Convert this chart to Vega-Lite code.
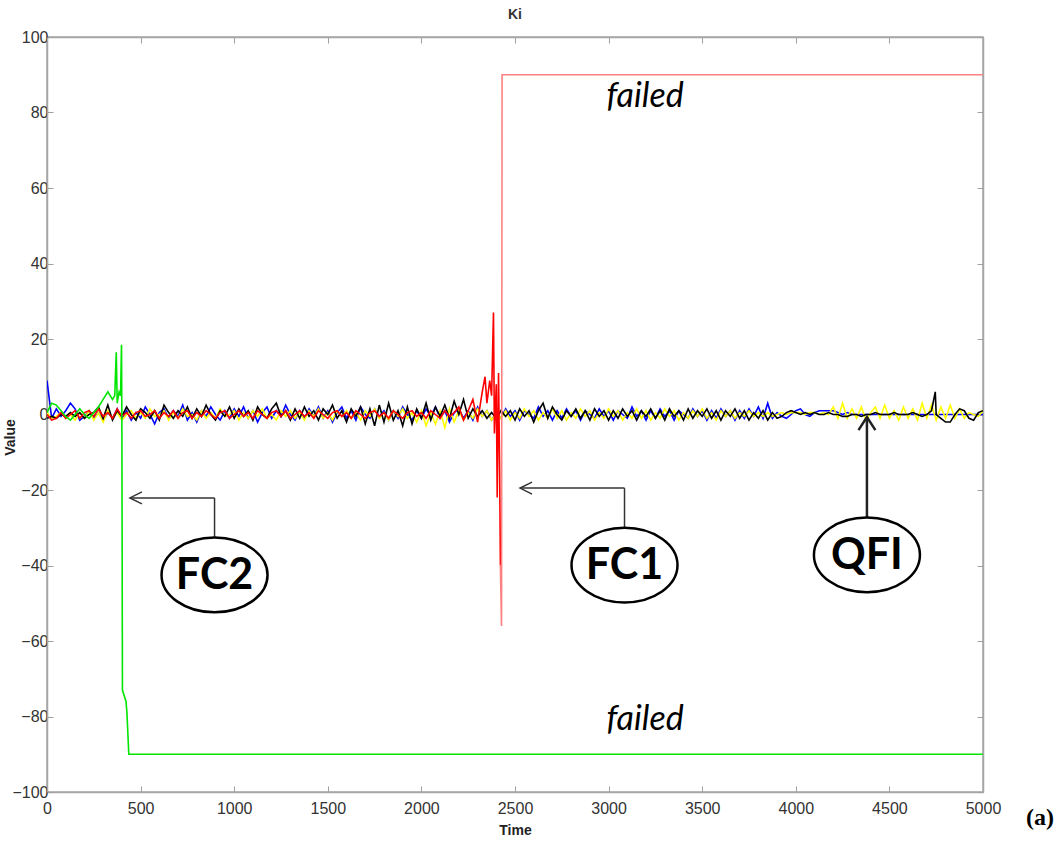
{
  "$schema": "https://vega.github.io/schema/vega-lite/v6.json",
  "width": 936,
  "height": 755,
  "autosize": {"type": "none"},
  "padding": {"left": 47, "top": 37, "right": 80, "bottom": 66},
  "background": "white",
  "title": {"text": "Ki", "fontSize": 14, "fontWeight": "bold", "font": "Liberation Sans", "color": "#333333", "offset": 7},
  "config": {"view": {"stroke": "#a6a6a6", "strokeWidth": 1.5}},
  "datasets": {
    "main": [
      {"t":0,"b":9,"k":-1,"y":0.5,"r":0,"g":0.5},
      {"t":25,"b":-1,"k":-0.5,"y":-1,"r":-1.5,"g":3},
      {"t":50,"b":1.5,"k":-1,"y":-0.5,"r":-1,"g":2.5},
      {"t":75,"b":-0.5,"k":0,"y":0.5,"r":0.5,"g":1},
      {"t":100,"b":1,"k":-0.5,"y":-1,"r":-1,"g":-0.5},
      {"t":125,"b":3,"k":0.5,"y":0,"r":0,"g":-1.5},
      {"t":150,"b":1.5,"k":-0.5,"y":-1.5,"r":1,"g":0},
      {"t":175,"b":-1.5,"k":0.5,"y":0.5,"r":-1,"g":1.5},
      {"t":200,"b":-0.5,"k":-1,"y":-1,"r":0.5,"g":0},
      {"t":225,"b":1,"k":0,"y":1,"r":1,"g":-1},
      {"t":250,"b":-1,"k":0.5,"y":-1.5,"r":-0.5,"g":0.5},
      {"t":275,"b":0.5,"k":2,"y":0.5,"r":1.5,"g":2},
      {"t":300,"b":-1.5,"k":-1,"y":-2,"r":-0.5,"g":4},
      {"t":325,"b":0.5,"k":2.5,"y":1,"r":0.5,"g":6},
      {"t":350,"b":-1,"k":-1.5,"y":-1,"r":-1,"g":4},
      {"t":362,"g":5},
      {"t":370,"g":16.5},
      {"t":375,"b":1.5,"k":1,"y":0.5,"r":1.5,"g":3},
      {"t":385,"g":6},
      {"t":393,"g":5},
      {"t":398,"g":18.5},
      {"t":400,"b":-1,"k":-0.5,"y":-1.5,"r":-0.5,"g":-2},
      {"t":403,"g":-73},
      {"t":422,"g":-76},
      {"t":427,"g":-79},
      {"t":437,"g":-90},
      {"t":425,"b":1,"k":2,"y":0,"r":0.5},
      {"t":450,"b":-1.5,"k":0,"y":1,"r":-1},
      {"t":475,"b":0.5,"k":-1.5,"y":-1,"r":0.5},
      {"t":500,"b":-1,"k":1.5,"y":0.5,"r":1},
      {"t":525,"b":2,"k":0.5,"y":-1,"r":-0.5},
      {"t":550,"b":0,"k":-1,"y":1.5,"r":0},
      {"t":575,"b":-2.5,"k":1,"y":-0.5,"r":1},
      {"t":600,"b":0.5,"k":-1.5,"y":0,"r":-1},
      {"t":625,"b":1.5,"k":2.5,"y":1,"r":0.5},
      {"t":650,"b":-1,"k":0.5,"y":-1.5,"r":-0.5},
      {"t":675,"b":1,"k":-1,"y":0.5,"r":1},
      {"t":700,"b":-0.5,"k":1,"y":-1,"r":-1},
      {"t":725,"b":2.5,"k":-0.5,"y":1.5,"r":0.5},
      {"t":750,"b":-1.5,"k":2,"y":-0.5,"r":1},
      {"t":775,"b":0.5,"k":-1,"y":0,"r":-1},
      {"t":800,"b":-2,"k":1.5,"y":-1.5,"r":0.5},
      {"t":825,"b":1,"k":-0.5,"y":1,"r":-0.5},
      {"t":850,"b":-0.5,"k":2.5,"y":-1,"r":1},
      {"t":875,"b":2,"k":0,"y":0.5,"r":0},
      {"t":900,"b":0,"k":-1.5,"y":-1,"r":-1},
      {"t":925,"b":-1.5,"k":1,"y":1.5,"r":0.5},
      {"t":950,"b":1,"k":-0.5,"y":-0.5,"r":1},
      {"t":975,"b":-1,"k":2,"y":0,"r":-1},
      {"t":1000,"b":1.5,"k":-1,"y":1,"r":0},
      {"t":1025,"b":-0.5,"k":1.5,"y":-1.5,"r":1},
      {"t":1050,"b":2,"k":-0.5,"y":0.5,"r":-0.5},
      {"t":1075,"b":-1,"k":1,"y":-1,"r":0.5},
      {"t":1100,"b":1,"k":-1.5,"y":1,"r":-1},
      {"t":1125,"b":-2,"k":2,"y":-0.5,"r":1},
      {"t":1150,"b":0.5,"k":0,"y":1.5,"r":0},
      {"t":1175,"b":2,"k":-1,"y":-1,"r":-1},
      {"t":1200,"b":-1,"k":1.5,"y":0,"r":0.5},
      {"t":1225,"b":1,"k":3,"y":-1.5,"r":1},
      {"t":1250,"b":-0.5,"k":-0.5,"y":1,"r":-0.5},
      {"t":1275,"b":2.5,"k":1,"y":-0.5,"r":1},
      {"t":1300,"b":0,"k":-1.5,"y":1,"r":-1},
      {"t":1325,"b":-1.5,"k":1.5,"y":-1,"r":0},
      {"t":1350,"b":1,"k":-1,"y":0.5,"r":1},
      {"t":1375,"b":-1,"k":2,"y":-1.5,"r":-0.5},
      {"t":1400,"b":1.5,"k":-0.5,"y":1,"r":0.5},
      {"t":1425,"b":-0.5,"k":1,"y":-0.5,"r":-1},
      {"t":1450,"b":2,"k":-1.5,"y":1.5,"r":1},
      {"t":1475,"b":-1,"k":1.5,"y":-1,"r":0},
      {"t":1500,"b":1,"k":0,"y":0.5,"r":-1},
      {"t":1525,"b":-2,"k":2.5,"y":-1.5,"r":0.5},
      {"t":1550,"b":0.5,"k":-1,"y":1,"r":1},
      {"t":1575,"b":2,"k":1,"y":-0.5,"r":-0.5},
      {"t":1600,"b":-1,"k":-2,"y":1,"r":0.5},
      {"t":1625,"b":1,"k":1.5,"y":-1,"r":-1},
      {"t":1650,"b":-1.5,"k":-0.5,"y":0.5,"r":1},
      {"t":1675,"b":2,"k":2,"y":-1.5,"r":0},
      {"t":1700,"b":0,"k":-2.5,"y":1,"r":-1},
      {"t":1725,"b":-1,"k":1.5,"y":-0.5,"r":0.5},
      {"t":1750,"b":1.5,"k":-3,"y":1.5,"r":1},
      {"t":1775,"b":-0.5,"k":2.5,"y":-1,"r":-0.5},
      {"t":1800,"b":1,"k":-2,"y":0.5,"r":0.5},
      {"t":1825,"b":-1.5,"k":3,"y":-1.5,"r":-1},
      {"t":1850,"b":1,"k":-1.5,"y":1,"r":1},
      {"t":1875,"b":-1,"k":1,"y":-0.5,"r":0},
      {"t":1900,"b":2,"k":-3,"y":1.5,"r":-1},
      {"t":1925,"b":0,"k":2,"y":-1,"r":0.5},
      {"t":1950,"b":-1.5,"k":-2.5,"y":0.5,"r":1},
      {"t":1975,"b":1,"k":1.5,"y":-2,"r":-0.5},
      {"t":2000,"b":-1,"k":-1,"y":1,"r":0.5},
      {"t":2025,"b":1.5,"k":3,"y":-3,"r":-1},
      {"t":2050,"b":-0.5,"k":-1.5,"y":0.5,"r":1},
      {"t":2075,"b":2,"k":2,"y":-2.5,"r":0},
      {"t":2100,"b":-1,"k":-0.5,"y":1,"r":-1},
      {"t":2125,"b":1,"k":2.5,"y":-3.5,"r":1},
      {"t":2150,"b":-2,"k":-1,"y":1.5,"r":-0.5},
      {"t":2175,"b":0.5,"k":3.5,"y":-2,"r":0.5},
      {"t":2200,"b":1.5,"k":0,"y":1,"r":2},
      {"t":2225,"b":-1,"k":4,"y":-1.5,"r":-1.5},
      {"t":2250,"b":1,"k":-1,"y":0.5,"r":1},
      {"t":2275,"b":-1.5,"k":1.5,"y":-1,"r":4},
      {"t":2300,"b":2,"k":-0.5,"y":1.5,"r":-2},
      {"t":2325,"b":-0.5,"k":1,"y":-0.5,"r":6},
      {"t":2340,"r":10},
      {"t":2350,"b":1,"k":-1,"y":1,"r":3},
      {"t":2365,"r":9},
      {"t":2375,"b":-1.5,"k":0.5,"y":-1.5,"r":5},
      {"t":2385,"r":27},
      {"t":2390,"r":-5},
      {"t":2400,"b":0.5,"k":-1,"y":0.5,"r":8},
      {"t":2405,"r":-22},
      {"t":2412,"r":11},
      {"t":2418,"r":-15},
      {"t":2422,"r":-40,"r2":-40},
      {"t":2428,"r2":-56},
      {"t":2431,"r2":90},
      {"t":2425,"b":-1,"k":1,"y":-1},
      {"t":2450,"b":1.5,"k":-0.5,"y":1},
      {"t":2475,"b":-0.5,"k":1,"y":-1.5},
      {"t":2500,"b":1,"k":-1.5,"y":0.5},
      {"t":2525,"b":-1.5,"k":1.5,"y":-1},
      {"t":2550,"b":1,"k":-0.5,"y":1.5},
      {"t":2575,"b":0,"k":1,"y":-0.5},
      {"t":2600,"b":-1,"k":-2,"y":1},
      {"t":2625,"b":2,"k":1,"y":-1.5},
      {"t":2650,"b":-0.5,"k":3,"y":0.5},
      {"t":2675,"b":1,"k":-1,"y":-1},
      {"t":2700,"b":-1.5,"k":2,"y":1.5},
      {"t":2725,"b":1,"k":0,"y":-1},
      {"t":2750,"b":-1,"k":-1.5,"y":1},
      {"t":2775,"b":1.5,"k":1,"y":-1.5},
      {"t":2800,"b":-0.5,"k":-0.5,"y":0.5},
      {"t":2825,"b":1,"k":1.5,"y":-1},
      {"t":2850,"b":-1.5,"k":-1,"y":1.5},
      {"t":2875,"b":1,"k":1,"y":-0.5},
      {"t":2900,"b":0,"k":-1.5,"y":1},
      {"t":2925,"b":-1,"k":1.5,"y":-1.5},
      {"t":2950,"b":1.5,"k":-0.5,"y":0.5},
      {"t":2975,"b":-0.5,"k":1,"y":-1},
      {"t":3000,"b":1,"k":-1.5,"y":1.5},
      {"t":3025,"b":-1.5,"k":1,"y":-0.5},
      {"t":3050,"b":1,"k":-1,"y":1},
      {"t":3075,"b":0,"k":1.5,"y":-1.5},
      {"t":3100,"b":-1,"k":-0.5,"y":0.5},
      {"t":3125,"b":2,"k":1,"y":-1},
      {"t":3150,"b":-0.5,"k":-1.5,"y":1.5},
      {"t":3175,"b":1,"k":1,"y":-1},
      {"t":3200,"b":-1.5,"k":-0.5,"y":1},
      {"t":3225,"b":1,"k":1.5,"y":-1.5},
      {"t":3250,"b":-1,"k":-1,"y":0.5},
      {"t":3275,"b":1.5,"k":1,"y":-1},
      {"t":3300,"b":-0.5,"k":-1.5,"y":1.5},
      {"t":3325,"b":1,"k":1.5,"y":-0.5},
      {"t":3350,"b":-1.5,"k":-0.5,"y":1},
      {"t":3375,"b":1,"k":1,"y":-1.5},
      {"t":3400,"b":0,"k":-1.5,"y":0.5},
      {"t":3425,"b":-1,"k":1.5,"y":-1},
      {"t":3450,"b":1.5,"k":-1,"y":1},
      {"t":3475,"b":-0.5,"k":1,"y":-0.5},
      {"t":3500,"b":1,"k":-0.5,"y":1.5},
      {"t":3525,"b":-1.5,"k":1.5,"y":-1},
      {"t":3550,"b":1,"k":-1,"y":0.5},
      {"t":3575,"b":-1,"k":1,"y":-1.5},
      {"t":3600,"b":1.5,"k":-1.5,"y":1},
      {"t":3625,"b":-0.5,"k":1,"y":-0.5},
      {"t":3650,"b":1,"k":-0.5,"y":1},
      {"t":3675,"b":-1.5,"k":1.5,"y":-1},
      {"t":3700,"b":1,"k":-1,"y":0.5},
      {"t":3725,"b":-1,"k":1,"y":-0.5},
      {"t":3750,"b":1.5,"k":-1.5,"y":1},
      {"t":3775,"b":-0.5,"k":0.5,"y":-0.5},
      {"t":3800,"b":2,"k":-1,"y":0.5},
      {"t":3825,"b":-1,"k":1,"y":-0.5},
      {"t":3850,"b":3,"k":-1.5,"y":0.5},
      {"t":3875,"b":-1,"k":0.5,"y":-0.5},
      {"t":3900,"b":0.5,"k":-1,"y":0},
      {"t":3925,"b":-0.5,"k":-0.5,"y":0.5},
      {"t":3950,"b":-1,"k":0.5,"y":0},
      {"t":3975,"b":0,"k":1,"y":0.5},
      {"t":4000,"b":1,"k":0.5,"y":0.5},
      {"t":4025,"b":1.5,"k":0,"y":0.5},
      {"t":4050,"b":0,"k":0.5,"y":0},
      {"t":4075,"b":-0.5,"k":0,"y":0.5},
      {"t":4100,"b":0.5,"k":0.5,"y":0.5},
      {"t":4125,"b":1,"k":0,"y":0},
      {"t":4150,"b":1,"k":0,"y":0.5},
      {"t":4175,"b":1,"k":0.5,"y":0},
      {"t":4200,"b":1,"k":0,"y":2},
      {"t":4225,"b":0.5,"k":0,"y":-1},
      {"t":4250,"b":0,"k":-0.5,"y":3},
      {"t":4275,"b":0.5,"k":-0.5,"y":-1},
      {"t":4300,"b":0,"k":0,"y":1.5},
      {"t":4325,"b":0,"k":0,"y":-1},
      {"t":4350,"b":0,"k":-0.5,"y":2},
      {"t":4375,"b":0,"k":0,"y":-1.5},
      {"t":4400,"b":0,"k":0,"y":0.5},
      {"t":4425,"b":0,"k":0.5,"y":2},
      {"t":4450,"b":0,"k":0,"y":-1},
      {"t":4475,"b":0,"k":0,"y":2.5},
      {"t":4500,"b":0,"k":0,"y":-1},
      {"t":4525,"b":0,"k":0.5,"y":1},
      {"t":4550,"b":0,"k":0,"y":-1.5},
      {"t":4575,"b":0,"k":0,"y":2},
      {"t":4600,"b":0,"k":0,"y":-1},
      {"t":4625,"b":0,"k":0.5,"y":1.5},
      {"t":4650,"b":0,"k":0,"y":-1.5},
      {"t":4675,"b":0,"k":-0.5,"y":3},
      {"t":4700,"b":0,"k":0,"y":-1},
      {"t":4725,"b":0,"k":1,"y":2.5},
      {"t":4745,"k":6},
      {"t":4750,"b":0,"k":0,"y":-1.5},
      {"t":4775,"b":0,"k":-1,"y":2},
      {"t":4800,"b":0,"k":-2,"y":-1},
      {"t":4825,"b":0,"k":-2,"y":2.5},
      {"t":4850,"b":0,"k":0,"y":-1},
      {"t":4875,"b":0,"k":1.5,"y":1.5},
      {"t":4900,"b":0,"k":1,"y":-1},
      {"t":4925,"b":0,"k":-1,"y":0.5},
      {"t":4950,"b":0,"k":-1.5,"y":0},
      {"t":4975,"b":0,"k":0.5,"y":-0.5},
      {"t":5000,"b":0,"k":1,"y":1,"g":-90,"r2":90}
    ]
  },
  "layer": [
    {
      "data": {"name": "main"},
      "transform": [
        {"fold": ["b", "y", "k", "r", "r2", "g"], "as": ["s", "v"]},
        {"filter": "isValid(datum.v)"}
      ],
      "mark": {"type": "line", "strokeWidth": 1.6, "clip": true},
      "encoding": {
        "x": {"field": "t", "type": "quantitative", "scale": {"domain": [0, 5000], "nice": false, "zero": false},
          "axis": {"orient": "bottom", "values": [0,500,1000,1500,2000,2500,3000,3500,4000,4500,5000], "format": "d", "title": "Time",
            "titleFont": "Liberation Sans", "titleFontSize": 14, "titleFontWeight": "bold", "titleColor": "#222222", "titlePadding": 7,
            "labelFont": "Liberation Sans", "labelFontSize": 16, "labelColor": "#333333", "labelPadding": 14, "labelFlush": false,
            "tickSize": -6, "tickColor": "#a0a0a0", "domainColor": "#a6a6a6", "domainWidth": 1.5, "grid": false}},
        "y": {"field": "v", "type": "quantitative", "scale": {"domain": [-100, 100], "nice": false, "zero": false},
          "axis": {"orient": "left", "values": [-100,-80,-60,-40,-20,0,20,40,60,80,100], "format": "d", "title": "Value",
            "titleFont": "Liberation Sans", "titleFontSize": 14, "titleFontWeight": "bold", "titleColor": "#222222", "titleX": -30, "titleY": 400,
            "labelFont": "Liberation Sans", "labelFontSize": 16, "labelColor": "#333333", "labelPadding": 5, "labelFlush": false,
            "tickSize": -6, "tickColor": "#a0a0a0", "domainColor": "#a6a6a6", "domainWidth": 1.5, "grid": false}},
        "color": {"field": "s", "type": "nominal", "legend": null,
          "scale": {"domain": ["b", "y", "k", "r", "r2", "g"], "range": ["#0000ff", "#ffff00", "#000000", "#ff0000", "#ff8080", "#00e600"]}}
      }
    },
    {
      "data": {"values": [
        {"t": 443, "v": -22.1, "t2": 895, "v2": -22.1},
        {"t": 895, "v": -22.1, "t2": 895, "v2": -32.7},
        {"t": 2527, "v": -19.5, "t2": 3085, "v2": -19.5},
        {"t": 3085, "v": -19.5, "t2": 3085, "v2": -30.1}
      ]},
      "mark": {"type": "rule", "stroke": "#333333", "strokeWidth": 1.5},
      "encoding": {
        "x": {"field": "t", "type": "quantitative", "axis": null},
        "x2": {"field": "t2"},
        "y": {"field": "v", "type": "quantitative", "axis": null},
        "y2": {"field": "v2"}
      }
    },
    {
      "data": {"values": [{"t": 4380, "v": -0.7, "v2": -27.4}]},
      "mark": {"type": "rule", "stroke": "#222222", "strokeWidth": 2.5},
      "encoding": {
        "x": {"field": "t", "type": "quantitative", "axis": null},
        "y": {"field": "v", "type": "quantitative", "axis": null},
        "y2": {"field": "v2"}
      }
    },
    {
      "data": {"values": [{"t": 443, "v": -22.1}, {"t": 2527, "v": -19.5}]},
      "mark": {"type": "point", "shape": "M 1 -0.5 L 0 0 L 1 0.5", "size": 576, "filled": false, "stroke": "#333333", "strokeWidth": 1.5, "opacity": 1},
      "encoding": {
        "x": {"field": "t", "type": "quantitative", "axis": null},
        "y": {"field": "v", "type": "quantitative", "axis": null}
      }
    },
    {
      "data": {"values": [{"t": 4380, "v": -0.7}]},
      "mark": {"type": "point", "shape": "M -0.65 1 L 0 0 L 0.65 1", "size": 676, "filled": false, "stroke": "#222222", "strokeWidth": 2.5, "opacity": 1},
      "encoding": {
        "x": {"field": "t", "type": "quantitative", "axis": null},
        "y": {"field": "v", "type": "quantitative", "axis": null}
      }
    },
    {
      "data": {"values": [
        {"t": 895, "v": -42.5, "lab": "FC2"},
        {"t": 3085, "v": -39.9, "lab": "FC1"},
        {"t": 4380, "v": -37.2, "lab": "QFI"}
      ]},
      "layer": [
        {
          "mark": {"type": "point", "shape": "M -1 0 A 1 0.705 0 1 1 1 0 A 1 0.705 0 1 1 -1 0 Z", "size": 11236, "filled": true, "fill": "white", "stroke": "black", "strokeWidth": 2.5, "opacity": 1},
          "encoding": {
            "x": {"field": "t", "type": "quantitative", "axis": null},
            "y": {"field": "v", "type": "quantitative", "axis": null}
          }
        },
        {
          "mark": {"type": "text", "font": "Lato", "fontWeight": "bold", "fontSize": 43, "color": "black", "align": "center", "baseline": "middle", "dy": 1},
          "encoding": {
            "x": {"field": "t", "type": "quantitative", "axis": null},
            "y": {"field": "v", "type": "quantitative", "axis": null},
            "text": {"field": "lab"}
          }
        }
      ]
    },
    {
      "data": {"values": [{"t": 3195, "v": 84.1, "s": "failed"}, {"t": 3195, "v": -80.9, "s": "failed"}]},
      "mark": {"type": "text", "font": "Lato", "fontStyle": "italic", "fontSize": 34, "color": "black", "align": "center", "baseline": "middle"},
      "encoding": {
        "x": {"field": "t", "type": "quantitative",
          "axis": {"orient": "top", "values": [0,500,1000,1500,2000,2500,3000,3500,4000,4500,5000], "labels": false, "title": null, "tickSize": -6, "tickColor": "#a0a0a0", "domainColor": "#a6a6a6", "domainWidth": 1.5, "grid": false}},
        "y": {"field": "v", "type": "quantitative",
          "axis": {"orient": "right", "values": [-100,-80,-60,-40,-20,0,20,40,60,80,100], "labels": false, "title": null, "tickSize": -6, "tickColor": "#a0a0a0", "domainColor": "#a6a6a6", "domainWidth": 1.5, "grid": false}},
        "text": {"field": "s"}
      }
    },
    {
      "data": {"values": [{"t": 5305, "v": -106.9, "s": "(a)"}]},
      "mark": {"type": "text", "font": "Liberation Serif", "fontWeight": "bold", "fontSize": 24, "color": "black", "align": "center", "baseline": "middle"},
      "encoding": {
        "x": {"field": "t", "type": "quantitative", "axis": null},
        "y": {"field": "v", "type": "quantitative", "axis": null},
        "text": {"field": "s"}
      }
    }
  ],
  "resolve": {"axis": {"x": "independent", "y": "independent"}}
}
